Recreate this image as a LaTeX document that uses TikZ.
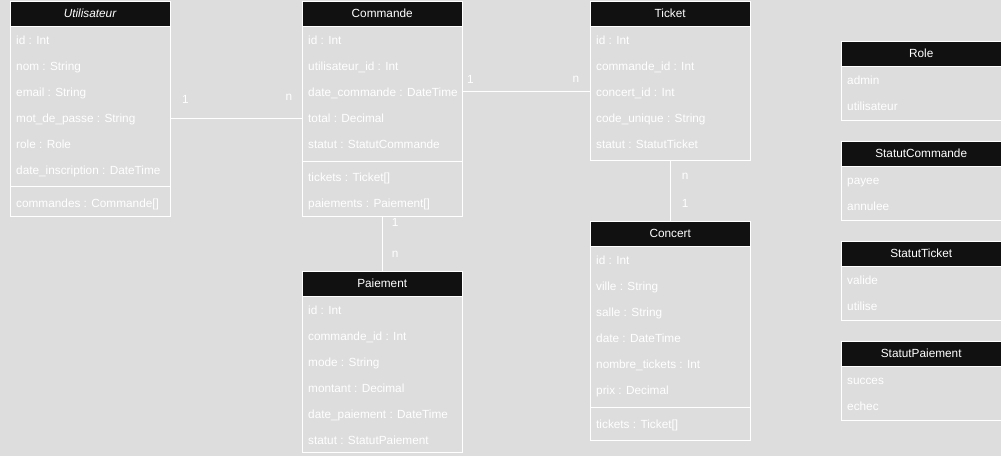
\documentclass[tikz,border=0pt]{standalone}
\usepackage{fontspec}
\setmainfont{Liberation Sans}
\usetikzlibrary{positioning}
\definecolor{fond}{HTML}{DDDDDD}
\definecolor{noir}{HTML}{111111}
\tikzset{
  entete/.style={draw=white, fill=noir, text=white, minimum width=160pt, minimum height=25pt, inner sep=0pt, anchor=north west},
  corps/.style={draw=white, minimum width=160pt, inner sep=0pt, anchor=north west},
  champ/.style={text=white, anchor=west, inner sep=0pt, text height=9pt, text depth=2.5pt, yshift=-0.8pt},
  lien/.style={draw=white},
  card/.style={text=white, inner sep=0pt, text height=9pt, text depth=2.5pt},
}
\begin{document}
\begin{tikzpicture}[x=1pt, y=-1pt, font=\fontsize{11.8}{14}\selectfont]
    \useasboundingbox[fill=fond] (0,0) rectangle (1001,456);
    % Utilisateur
    \node[entete] (util) at (10,1) {\textit{Utilisateur}};
    \node[corps, minimum height=190pt] (utilcorps) at (util.south west) {};
    \foreach \t [count=\i] in {id : Int, nom : String, email : String, mot\_de\_passe : String, role : Role, date\_inscription : DateTime}
        \node[champ] (util\i) at (16,14+26*\i) {\t};
    \draw[white] (10,186) -- (170,186);
    \node[champ] (util7) at (16,203) {commandes : Commande[]};
    % Commande
    \node[entete] (cmd) at (302,1) {Commande};
    \node[corps, minimum height=190pt] (cmdcorps) at (cmd.south west) {};
    \foreach \t [count=\i] in {id : Int, utilisateur\_id : Int, date\_commande : DateTime, total : Decimal, statut : StatutCommande}
        \node[champ] (cmd\i) at (308,14+26*\i) {\t};
    \draw[white] (302,161) -- (462,161);
    \node[champ] (cmd6) at (308,177) {tickets : Ticket[]};
    \node[champ] (cmd7) at (308,203) {paiements : Paiement[]};
    % Ticket
    \node[entete] (ticket) at (590,1) {Ticket};
    \node[corps, minimum height=134pt] (ticketcorps) at (ticket.south west) {};
    \foreach \t [count=\i] in {id : Int, commande\_id : Int, concert\_id : Int, code\_unique : String, statut : StatutTicket}
        \node[champ] (ticket\i) at (596,14+26*\i) {\t};
    % Concert
    \node[entete] (concert) at (590,221) {Concert};
    \node[corps, minimum height=194pt] (concertcorps) at (concert.south west) {};
    \foreach \t [count=\i] in {id : Int, ville : String, salle : String, date : DateTime, nombre\_tickets : Int, prix : Decimal}
        \node[champ] (concert\i) at (596,234+26*\i) {\t};
    \draw[white] (590,407) -- (750,407);
    \node[champ] (concert7) at (596,424) {tickets : Ticket[]};
    % Paiement
    \node[entete] (paie) at (302,271) {Paiement};
    \node[corps, minimum height=156pt] (paiecorps) at (paie.south west) {};
    \foreach \t [count=\i] in {id : Int, commande\_id : Int, mode : String, montant : Decimal, date\_paiement : DateTime, statut : StatutPaiement}
        \node[champ] (paie\i) at (308,284+26*\i) {\t};
    % Enumerations
    \foreach \nom/\a/\b [count=\k] in {Role/admin/utilisateur, StatutCommande/payee/annulee, StatutTicket/valide/utilise, StatutPaiement/succes/echec} {
        \node[entete] (enum\k) at (841,100*\k-59) {\nom};
        \node[corps, minimum height=54pt] (enumcorps\k) at (enum\k.south west) {};
        \node[champ] (enuma\k) at (847,100*\k-20) {\a};
        \node[champ] (enumb\k) at (847,100*\k+6) {\b};
    }
    % Liens
    \draw[lien] ([yshift=1pt]utilcorps.east |- util4) -- ([yshift=1pt]cmdcorps.west |- cmd4)
        node[card, at start, xshift=15pt, yshift=18pt] {1}
        node[card, at end, xshift=-13pt, yshift=21pt] {n};
    \draw[lien] ([yshift=1.6pt]cmdcorps.east |- cmd3) -- ([yshift=1.6pt]ticketcorps.west |- ticket3)
        node[card, at start, xshift=8pt, yshift=11pt] {1}
        node[card, at end, xshift=-14pt, yshift=12pt] {n};
    \draw[lien] (ticketcorps.south) -- (concert.north)
        node[card, at start, xshift=15pt, yshift=-15pt] {n}
        node[card, at end, xshift=15pt, yshift=17pt] {1};
    \draw[lien] (cmdcorps.south) -- (paie.north)
        node[card, at start, xshift=13pt, yshift=-6pt] {1}
        node[card, at end, xshift=13pt, yshift=17pt] {n};
\end{tikzpicture}
\end{document}
